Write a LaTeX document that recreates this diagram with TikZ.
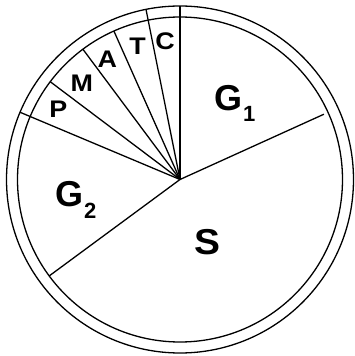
\documentclass[tikz,border=0pt]{standalone}
\usepackage{fontspec}
\setmainfont{Liberation Sans}
\newcommand{\rimout}{173.5}
\newcommand{\rimin}{162.5}

\begin{document}
\begin{tikzpicture}[x=1pt, y=1pt, line width=1.3pt,
  every node/.style={inner sep=0pt},
  biglbl/.style={font=\fontsize{36}{36}\selectfont\bfseries},
  smalllbl/.style={font=\fontsize{24}{24}\selectfont\bfseries}]
\useasboundingbox (-180,-176.5) rectangle (175,179.5);
\coordinate (o) at (0,0);
% double rim
\draw (o) circle (\rimout);
\draw (o) circle (\rimin);
% slice borders
\draw (o) -- (90:\rimout);
\draw (o) -- (101.3:\rimout);
\foreach \a in {114,126.7,143}
  \draw (o) -- (\a:\rimin);
\draw (o) -- (157.2:\rimout);
\draw (o) -- (216.4:\rimin);
\draw (o) -- (24.4:158);
% small slices
\node[smalllbl] (c) at (-15,137.8) {\scalebox{1.12}[1]{C}};
\node[smalllbl] (t) at (-42.3,132.8) {\scalebox{1.12}[1]{T}};
\node[smalllbl] (a) at (-72.7,120.2) {\scalebox{1.12}[1]{A}};
\node[smalllbl] (m) at (-98.3,96.2) {\scalebox{1.12}[1]{M}};
\node[smalllbl] (p) at (-121.7,70.5) {\scalebox{1.12}[1]{P}};
% big slices
\node[biglbl, anchor=base west] (g1) at (33.4,68.8)
  {G\kern1pt\raisebox{-11pt}{\fontsize{22}{22}\selectfont 1}};
\node[biglbl, anchor=base west] (g2) at (-125.6,-27.2)
  {G\kern1pt\raisebox{-11.5pt}{\fontsize{22}{22}\selectfont 2}};
\node[biglbl] (s) at (27.3,-63) {\scalebox{1.08}[1]{S}};
\end{tikzpicture}
\end{document}
